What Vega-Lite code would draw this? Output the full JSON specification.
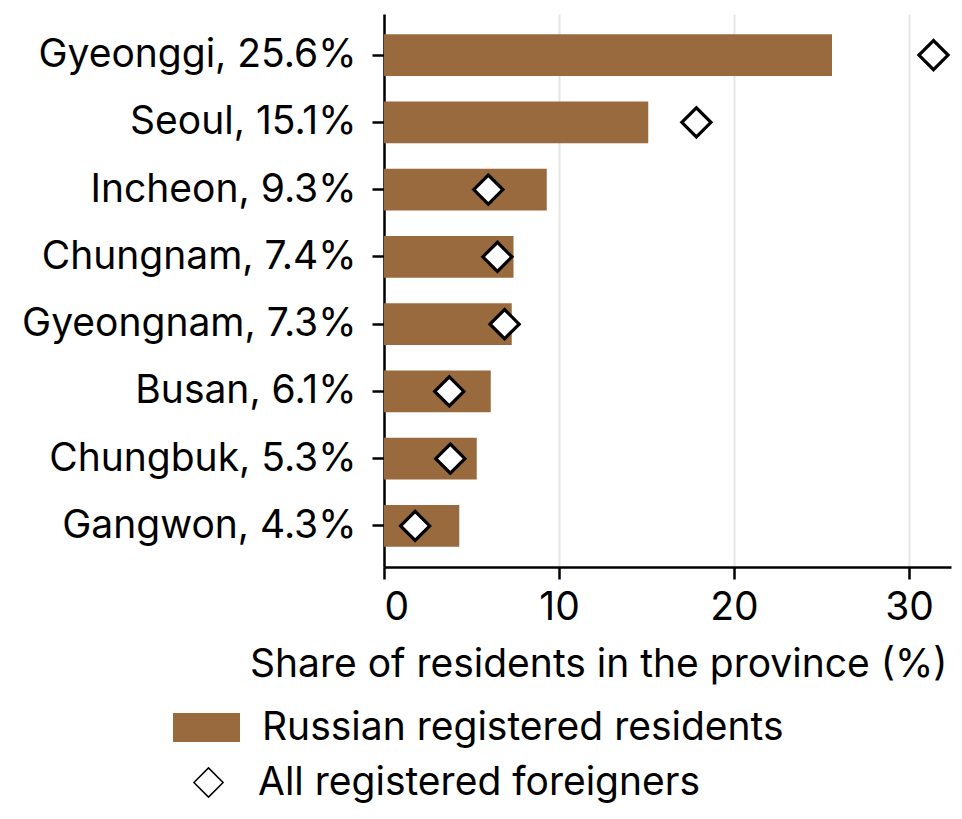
{
  "$schema": "https://vega.github.io/schema/vega-lite/v6.json",
  "autosize": {"type": "none"},
  "padding": {"left": 384, "top": 14, "right": 11, "bottom": 252},
  "width": 567,
  "height": 553,
  "background": "white",
  "config": {
    "font": "Inter",
    "view": {"stroke": null},
    "axis": {"labelFont": "Inter", "titleFont": "Inter", "labelColor": "black", "titleColor": "black", "labelLimit": 0, "titleLimit": 0},
    "legend": {"labelFont": "Inter", "labelColor": "black", "labelLimit": 0, "padding": 0}
  },
  "data": {
    "values": [
      {"label": "Gyeonggi, 25.6%", "russian": 25.6, "all": 31.4},
      {"label": "Seoul, 15.1%", "russian": 15.1, "all": 17.85},
      {"label": "Incheon, 9.3%", "russian": 9.3, "all": 5.96},
      {"label": "Chungnam, 7.4%", "russian": 7.4, "all": 6.48},
      {"label": "Gyeongnam, 7.3%", "russian": 7.3, "all": 6.89},
      {"label": "Busan, 6.1%", "russian": 6.1, "all": 3.73},
      {"label": "Chungbuk, 5.3%", "russian": 5.3, "all": 3.79},
      {"label": "Gangwon, 4.3%", "russian": 4.3, "all": 1.78}
    ]
  },
  "encoding": {
    "y": {
      "field": "label", "type": "nominal", "sort": null,
      "scale": {"paddingInner": 0.377, "paddingOuter": 0.3},
      "axis": {
        "title": null, "labelFontSize": 39, "labelPadding": 16,
        "tickSize": 12, "tickWidth": 2.5, "tickColor": "black",
        "domainColor": "black", "domainWidth": 2.5, "grid": false
      }
    }
  },
  "layer": [
    {
      "mark": {"type": "bar", "color": "#996a3e"},
      "encoding": {
        "x": {
          "field": "russian", "type": "quantitative",
          "scale": {"domain": [0, 32.4], "nice": false, "zero": true},
          "axis": {
            "title": "Share of residents in the province (%)",
            "titleFontSize": 39, "titleFontWeight": "normal", "titlePadding": 18,
            "titleX": 563, "titleAlign": "right",
            "labelFontSize": 39, "labelPadding": 9,
            "values": [0, 10, 20, 30],
            "tickSize": 12, "tickWidth": 2.5, "tickColor": "black",
            "domainColor": "black", "domainWidth": 2.5,
            "grid": true, "gridColor": "#e6e6e6", "gridWidth": 2
          }
        },
        "fill": {
          "datum": "Russian registered residents",
          "scale": {"range": ["#996a3e"]},
          "legend": {
            "title": null, "orient": "none", "legendX": -211, "legendY": 680,
            "symbolType": "M-1,-0.433H1V0.433H-1Z", "symbolSize": 4489,
            "symbolStrokeWidth": 0, "labelFontSize": 39, "labelOffset": 22
          }
        }
      }
    },
    {
      "mark": {"type": "point", "shape": "diamond", "filled": true, "fill": "white", "stroke": "black", "strokeWidth": 3.2, "size": 850, "opacity": 1},
      "encoding": {
        "x": {"field": "all", "type": "quantitative"},
        "shape": {
          "datum": "All registered foreigners",
          "scale": {"range": ["diamond"]},
          "legend": {
            "title": null, "orient": "none", "legendX": -195, "legendY": 749,
            "symbolSize": 850, "labelFontSize": 39, "labelOffset": 30,
            "encode": {"symbols": {"update": {"stroke": {"value": "black"}, "fill": {"value": "white"}, "strokeWidth": {"value": 3.2}, "opacity": {"value": 1}}}}
          }
        }
      }
    }
  ]
}
